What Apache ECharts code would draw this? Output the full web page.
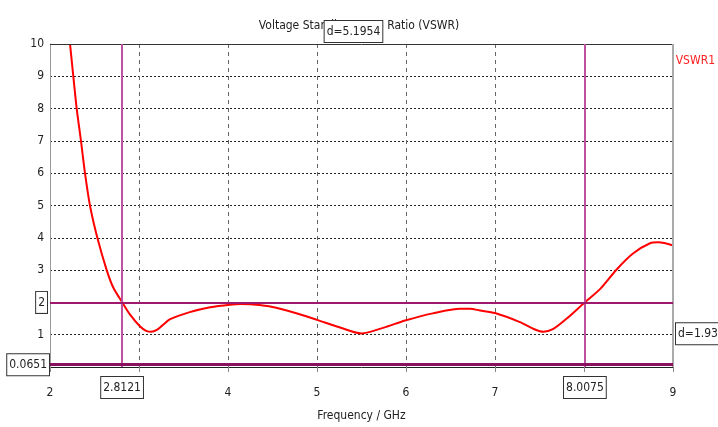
<!DOCTYPE html>
<html>
<head>
<meta charset="utf-8">
<script src="https://cdn.jsdelivr.net/npm/echarts@6/dist/echarts.min.js"></script>
<style>
  html, body { margin: 0; padding: 0; background: #fff; }
  #chart { width: 718px; height: 427px; }
</style>
</head>
<body>
<div id="chart"></div>
<script>
// Frequency sweep (GHz) and measured VSWR
const freqGHz = [2.225, 2.262, 2.300, 2.348, 2.393, 2.449, 2.532, 2.637, 2.711, 2.8121,
                 2.90, 3.01, 3.08, 3.14, 3.20, 3.26, 3.35, 3.57, 3.80, 4.02,
                 4.15, 4.25, 4.50, 4.75, 5.00, 5.25, 5.50, 5.75, 5.99, 6.30,
                 6.61, 6.72, 6.83, 7.00, 7.28, 7.45, 7.543, 7.65, 7.806, 8.0075,
                 8.18, 8.367, 8.554, 8.742, 8.835, 9.00];
const vswr    = [10.0, 9.0, 8.0, 7.0, 6.0, 5.0, 4.0, 3.0, 2.46, 2.0,
                 1.62, 1.26, 1.12, 1.09, 1.15, 1.28, 1.48, 1.70, 1.85, 1.93,
                 1.95, 1.94, 1.86, 1.68, 1.46, 1.23, 1.04, 1.22, 1.44, 1.66,
                 1.80, 1.80, 1.75, 1.67, 1.39, 1.16, 1.09, 1.17, 1.50, 2.0,
                 2.41, 3.02, 3.52, 3.83, 3.86, 3.76];

// Marker positions
const markerFreqs = [2.8121, 8.0075];
const markerLevels = [2, 0.0651];
const seriesName = 'VSWR1';
const titleText = 'Voltage Standing Wave Ratio (VSWR)';
const xName = 'Frequency / GHz';

const FONT = 'DejaVu Sans Condensed';
const boxLabel = {
  show: true,
  backgroundColor: '#fff',
  borderColor: '#333',
  borderWidth: 1,
  padding: [5, 2, 4, 2],
  color: '#222',
  fontFamily: FONT,
  fontSize: 12
};

const dFreq = (markerFreqs[1] - markerFreqs[0]);
const dLevel = (markerLevels[0] - markerLevels[1]);

const chart = echarts.init(document.getElementById('chart'), null, { renderer: 'canvas' });
chart.setOption({
  animation: false,
  backgroundColor: '#fff',
  title: {
    text: titleText,
    left: 'center',
    top: 15,
    z: 0,
    textStyle: { fontFamily: FONT, fontSize: 12, fontWeight: 'normal', color: '#222' }
  },
  legend: {
    data: [{ name: seriesName, icon: 'none' }],
    right: 3,
    top: 54,
    padding: 0,
    itemWidth: 0,
    itemGap: 0,
    textStyle: { color: '#ff2020', fontFamily: FONT, fontSize: 12 }
  },
  grid: { left: 50, right: 45, top: 44, bottom: 55 },
  xAxis: {
    type: 'value',
    min: 2, max: 9, interval: 1,
    name: xName,
    nameLocation: 'middle',
    nameGap: 43,
    nameTextStyle: { fontFamily: FONT, fontSize: 12, color: '#222' },
    axisLine: { lineStyle: { color: '#222', width: 1 } },
    axisTick: { show: true, length: 5, lineStyle: { color: '#888' } },
    axisLabel: {
      fontFamily: FONT, fontSize: 12, color: '#222', margin: 20,
      formatter: v => (v === 3 || v === 8) ? '' : String(v)
    },
    splitLine: {
      show: true, showMinLine: false, showMaxLine: false,
      lineStyle: { color: '#666', type: [4, 4], width: 1 }
    }
  },
  yAxis: {
    type: 'value',
    min: 0, max: 10, interval: 1,
    axisLine: { show: true, lineStyle: { color: '#999', width: 1 } },
    axisTick: { show: false },
    axisLabel: {
      fontFamily: FONT, fontSize: 12, color: '#222', margin: 6,
      formatter: v => (v === 0 || v === 2) ? '' : String(v)
    },
    splitLine: {
      show: true, showMinLine: false, showMaxLine: false,
      lineStyle: { color: '#222', type: [2, 2], width: 1 }
    }
  },
  series: [{
    name: seriesName,
    type: 'line',
    data: freqGHz.map((f, i) => [f, vswr[i]]),
    smooth: 0.3,
    showSymbol: false,
    lineStyle: { color: '#ff0000', width: 2 },
    itemStyle: { color: '#ff0000' },
    markLine: {
      silent: true,
      symbol: 'none',
      animation: false,
      data: [
        { yAxis: 10, lineStyle: { color: '#333', type: 'solid', width: 1 }, label: { show: false } },
        { xAxis: 9, lineStyle: { color: '#aaa', type: 'solid', width: 2 }, label: { show: false } },
        { xAxis: markerFreqs[0], lineStyle: { color: '#c050a0', type: 'solid', width: 2 },
          label: Object.assign({}, boxLabel, { position: 'start', distance: 10, formatter: String(markerFreqs[0]) }) },
        { xAxis: markerFreqs[1], lineStyle: { color: '#c050a0', type: 'solid', width: 2 },
          label: Object.assign({}, boxLabel, { position: 'start', distance: 10, formatter: String(markerFreqs[1]) }) },
        { yAxis: markerLevels[0], lineStyle: { color: '#a0186e', type: 'solid', width: 2 },
          label: Object.assign({}, boxLabel, { position: 'start', distance: 3, formatter: String(markerLevels[0]) }) },
        { yAxis: markerLevels[1], lineStyle: { color: '#8a1060', type: 'solid', width: 3 },
          label: Object.assign({}, boxLabel, { position: 'start', distance: 1, formatter: String(markerLevels[1]) }) }
      ]
    },
    markPoint: {
      silent: true,
      symbol: 'circle',
      symbolSize: 0,
      z: 10,
      data: [
        { coord: [(markerFreqs[0] + markerFreqs[1]) / 2, 10],
          label: Object.assign({}, boxLabel, { position: 'top', distance: 2, formatter: 'd=' + dFreq.toFixed(4) }) },
        { coord: [9, (markerLevels[0] + markerLevels[1]) / 2],
          label: Object.assign({}, boxLabel, { position: 'right', distance: 3, formatter: 'd=' + dLevel.toFixed(4) }) }
      ]
    }
  }]
});
</script>
</body>
</html>
